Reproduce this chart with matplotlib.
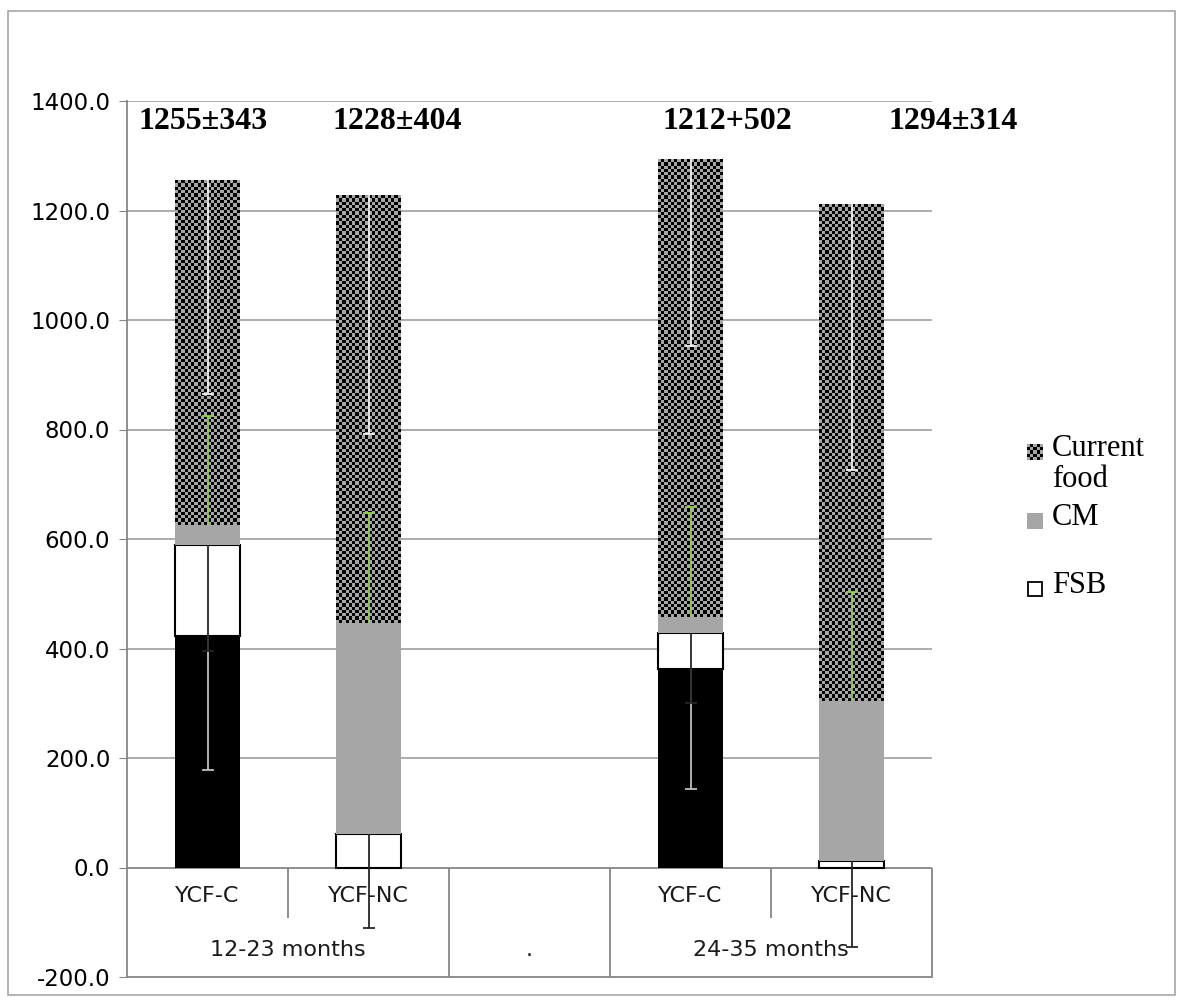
import matplotlib
matplotlib.use("Agg")
import matplotlib.pyplot as plt
import numpy as np
from matplotlib.patches import Rectangle
from matplotlib.colors import ListedColormap

# categories: 5 slots, the middle one is an empty spacer
subcats = ["YCF-C", "YCF-NC", "", "YCF-C", "YCF-NC"]
groups = ["12-23 months", ".", "24-35 months"]
group_slots = [(0, 1), (2, 2), (3, 4)]

# stacked series (kcal), nan = empty slot
bm = np.array([423, 0, np.nan, 363, 0], dtype=float)       # black base, not in legend
fsb = np.array([166, 61, np.nan, 65, 12], dtype=float)
cm = np.array([37, 386, np.nan, 30, 293], dtype=float)
cur_food = np.array([629, 781, np.nan, 836, 907], dtype=float)

# error bar lengths
bm_err = [245, 0, 0, 219, 0]       # downwards
fsb_err = [193, 172, 0, 128, 157]  # downwards
cm_err = [199, 200, 0, 200, 199]   # upwards
cf_err = [390, 437, 0, 341, 486]   # downwards

totals_txt = ["1255±343", "1228±404", "1212+502", "1294±314"]
totals_x = [-0.03, 1.18, 3.23, 4.63]   # label positions (slot units)

legend_labels = ["Current\nfood", "CM", "FSB"]

plt.rcParams['font.family'] = ['DejaVu Sans']
serif = ['Liberation Serif', 'DejaVu Serif']

W, H = 1183, 1000
fig = plt.figure(figsize=(W / 100, H / 100), dpi=100)
ax = fig.add_axes([127 / W, 1 - 977 / H, (932 - 127) / W, (977 - 101) / H])
ymin, ymax = -200, 1400
x = np.arange(len(subcats))
bw = 0.4

ax.bar(x, bm, bw, color='black', zorder=2)
ax.bar(x, fsb, bw, bottom=bm, color='white', edgecolor='black', linewidth=1.5, zorder=2)
b3 = bm + fsb
ax.bar(x, cm, bw, bottom=b3, color='#A6A6A6', zorder=2)
b4 = b3 + cm
cf_bars = ax.bar(x, cur_food, bw, bottom=b4, color='#A6A6A6', zorder=2)
top = b4 + cur_food

# checker texture on the current food bars
ax_h_px = 977 - 101
ax_w_px = 932 - 127
cell = 3.3
checker = ListedColormap(['#A6A6A6', '#000000'])
for p in cf_bars:
    h = p.get_height()
    if not np.isfinite(h):
        continue
    nr = max(1, int(round(h * ax_h_px / (ymax - ymin) / cell)))
    nc = max(1, int(round(p.get_width() * ax_w_px / 5 / cell)))
    ii, jj = np.indices((nr, nc))
    ax.imshow((ii + jj) % 2, cmap=checker, extent=(p.get_x(), p.get_x() + p.get_width(), p.get_y(), p.get_y() + h),
              aspect='auto', interpolation='nearest', zorder=2.1, origin='lower')


def err_line(xs, y0, errs, color, up=False):
    for xi, yi, e in zip(xs, y0, errs):
        if not np.isfinite(yi) or e == 0:
            continue
        y1 = yi + e if up else yi - e
        ax.vlines(xi, min(yi, y1), max(yi, y1), color=color, lw=1.3, zorder=3)
        ax.plot([xi], [y1], ls='none', marker='_', ms=9, mew=1.3, color=color, zorder=3)


err_line(x, bm, bm_err, '#BFBFBF')
err_line(x, b3, fsb_err, '#262626')
err_line(x, b4, cm_err, '#92D050', up=True)
err_line(x, top, cf_err, '#F2F2F2')

ax.set_xlim(-0.5, len(subcats) - 0.5)
ax.set_ylim(ymin, ymax)
ax.set_yticks(np.arange(ymin, ymax + 1, 200))
ax.set_yticklabels([f"{v:.1f}" for v in np.arange(ymin, ymax + 1, 200)], fontsize=16.5)
ax.tick_params(axis='y', length=6, color='#868686', pad=6)
ax.set_xticks([])
for s in ['top', 'right', 'bottom']:
    ax.spines[s].set_visible(False)
ax.spines['left'].set_color('#868686')
ax.spines['left'].set_linewidth(1.3)

# gridlines
for v in np.arange(200, ymax + 1, 200):
    ax.axhline(v, color='#A6A6A6', lw=1.3, zorder=1)
ax.axhline(0, color='#868686', lw=1.3, zorder=1.5)
ax.axhline(ymin, color='#868686', lw=1.3, zorder=1.5, clip_on=False)

# category label table below zero
ax.vlines([1.5, 2.5, 4.5], ymin, 0, color='#868686', lw=1.3, zorder=1.5, clip_on=False)
ax.vlines([0.5, 3.5], -93, 0, color='#868686', lw=1.3, zorder=1.5)
for xi, lab in zip(x, subcats):
    ax.text(xi, -52, lab, ha='center', va='center', fontsize=16, color='#1a1a1a')
for (a, b), g in zip(group_slots, groups):
    ax.text((a + b) / 2, -150, g, ha='center', va='center', fontsize=16, color='#1a1a1a')

for xi, t in zip(totals_x, totals_txt):
    ax.text(xi, 1362, t, ha='center', va='center', fontsize=23, fontweight='bold',
            family=serif, color='black')

# legend, laid out like the Excel one (figure pixels)
sq = 16
mx = 1027
rows_y = [452, 521, 589]
ii, jj = np.indices((5, 5))
lax = fig.add_axes([mx / W, 1 - (rows_y[0] + sq / 2) / H, sq / W, sq / H])
lax.imshow((ii + jj) % 2, cmap=checker, interpolation='nearest', aspect='auto')
lax.axis('off')
fig.patches.append(Rectangle((mx / W, 1 - (rows_y[1] + sq / 2) / H), sq / W, sq / H,
                             transform=fig.transFigure, facecolor='#A6A6A6', edgecolor='none'))
fig.patches.append(Rectangle(((mx + 1) / W, 1 - (rows_y[2] + sq / 2 - 1) / H), (sq - 2) / W, (sq - 2) / H,
                             transform=fig.transFigure, facecolor='white', edgecolor='black', lw=1.3))
for yc, lab in zip(rows_y, legend_labels):
    fig.text(1052 / W, 1 - (yc - 18) / H, lab, ha='left', va='top', fontsize=22,
             family=serif, linespacing=1.1)

fig.patches.append(Rectangle((8 / W, 5 / H), (1175 - 8) / W, (992 - 8) / H, transform=fig.transFigure,
                             fill=False, edgecolor='#A6A6A6', lw=1.2))

fig.savefig('out.png', dpi=100)
